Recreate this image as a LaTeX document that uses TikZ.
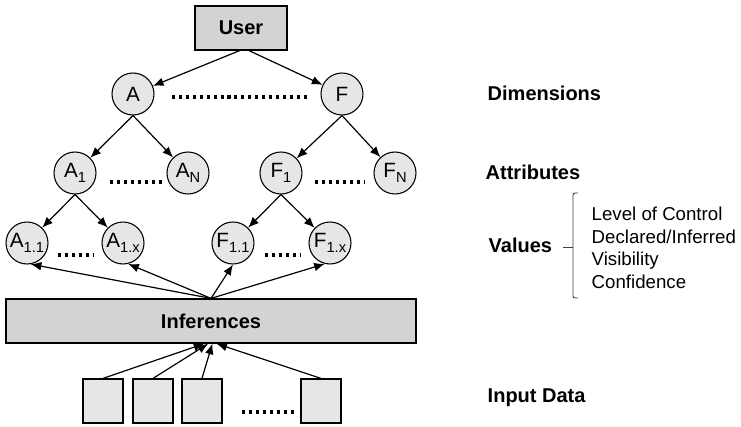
\documentclass[tikz,border=0pt]{standalone}
\usepackage{fontspec}
\setmainfont{Liberation Sans}
\usetikzlibrary{arrows.meta, positioning}

\definecolor{boxgray}{HTML}{D3D3D3}
\definecolor{nodegray}{HTML}{E6E6E6}
\newcommand{\lowsub}[1]{\raisebox{-0.45ex}{\fontsize{11}{11}\selectfont #1}}

\begin{document}
\begin{tikzpicture}[x=0.75pt, y=-0.75pt,
    circ/.style={circle, draw, line width=0.8pt, fill=nodegray, minimum size=31.5pt, inner sep=0pt, font=\fontsize{15.5}{18}\selectfont},
    bigbox/.style={rectangle, draw, line width=0.9pt, fill=boxgray, minimum height=33pt, font=\fontsize{15}{18}\selectfont\bfseries},
    inbox/.style={rectangle, draw, line width=0.9pt, fill=nodegray, minimum width=30pt, minimum height=33pt},
    arr/.style={-{Latex[length=8pt,width=6.5pt]}, line width=0.9pt},
    dotline/.style={line width=2.3pt, dash pattern=on 2.3pt off 2.9pt},
    side/.style={anchor=west, font=\fontsize{15}{18}\selectfont\bfseries}]
    \useasboundingbox (0,0) rectangle (741,427);

    % top of the tree
    \node (user) [bigbox, minimum width=69pt] at (241,28) {User};
    \node (A) [circ] at (133,94) {A};
    \node (F) [circ] at (342,94) {F};

    % attributes
    \node (A1) [circ] at (75,173) {A\lowsub{1}};
    \node (AN) [circ] at (188,173) {A\lowsub{N}};
    \node (F1) [circ] at (281,173) {F\lowsub{1}};
    \node (FN) [circ] at (395,173) {F\lowsub{N}};

    % values
    \node (A11) [circ] at (27,243) {A\lowsub{1.1}};
    \node (A1x) [circ] at (123,243) {A\lowsub{1.x}};
    \node (F11) [circ] at (233,243) {F\lowsub{1.1}};
    \node (F1x) [circ] at (330,243) {F\lowsub{1.x}};

    \node (infer) [bigbox, minimum width=307.5pt] at (211,321) {Inferences};

    % input data
    \node (in1) [inbox] at (103,401) {};
    \node (in2) [inbox] at (153,401) {};
    \node (in3) [inbox] at (202,401) {};
    \node (in4) [inbox] at (321,401) {};

    \draw [arr] ([xshift=-1pt]user.south) -- (A);
    \draw [arr] ([xshift=6pt]user.south) -- (F);
    \draw [arr] (A.south) -- (A1);
    \draw [arr] (A.south) -- (AN);
    \draw [arr] (F.south) -- (F1);
    \draw [arr] (F.south) -- (FN);
    \draw [arr] (A1.south) -- (A11);
    \draw [arr] (A1.south) -- (A1x);
    \draw [arr] (F1.south) -- (F11);
    \draw [arr] (F1.south) -- (F1x);

    \draw [arr] (infer.north) -- (A11.-80);
    \draw [arr] (infer.north) -- (A1x.-76);
    \draw [arr] (infer.north) -- (F11.south);
    \draw [arr] (infer.north) -- (F1x.-104);

    \draw [arr] (in1.north) -- ([xshift=-5pt]infer.south);
    \draw [arr] (in2.north) -- ([xshift=-2pt]infer.south);
    \draw [arr] (in3.north) -- ([xshift=1pt]infer.south);
    \draw [arr] (in4.north) -- ([xshift=4pt]infer.south);

    % dots
    \draw [dotline] (172,97) -- (307,97);
    \draw [dotline] (110,182) -- (162,182);
    \draw [dotline] (315,182) -- (365,182);
    \draw [dotline] (58,255) -- (93,255);
    \draw [dotline] (265,255) -- (300,255);
    \draw [dotline] (242,412) -- (294,412);

    % labels on the right
    \node (dim) [side] at (483,93) {Dimensions};
    \node (attr) [side] at (481,172) {Attributes};
    \node (val) [side] at (484,245) {Values};
    \node (input) [side] at (483,398) {Input Data};
    \node (vallist) [anchor=west, align=left, font=\fontsize{14}{16.9}\selectfont] at (587,248)
        {Level of Control\\Declared/Inferred\\Visibility\\Confidence};
    \draw [line width=0.7pt, black!75, rounded corners=1.5pt] (578,193) -- (573,193) -- (573,298) -- (578,298);
    \draw [line width=0.7pt, black!75] (573,247) -- (563,247);
\end{tikzpicture}
\end{document}
